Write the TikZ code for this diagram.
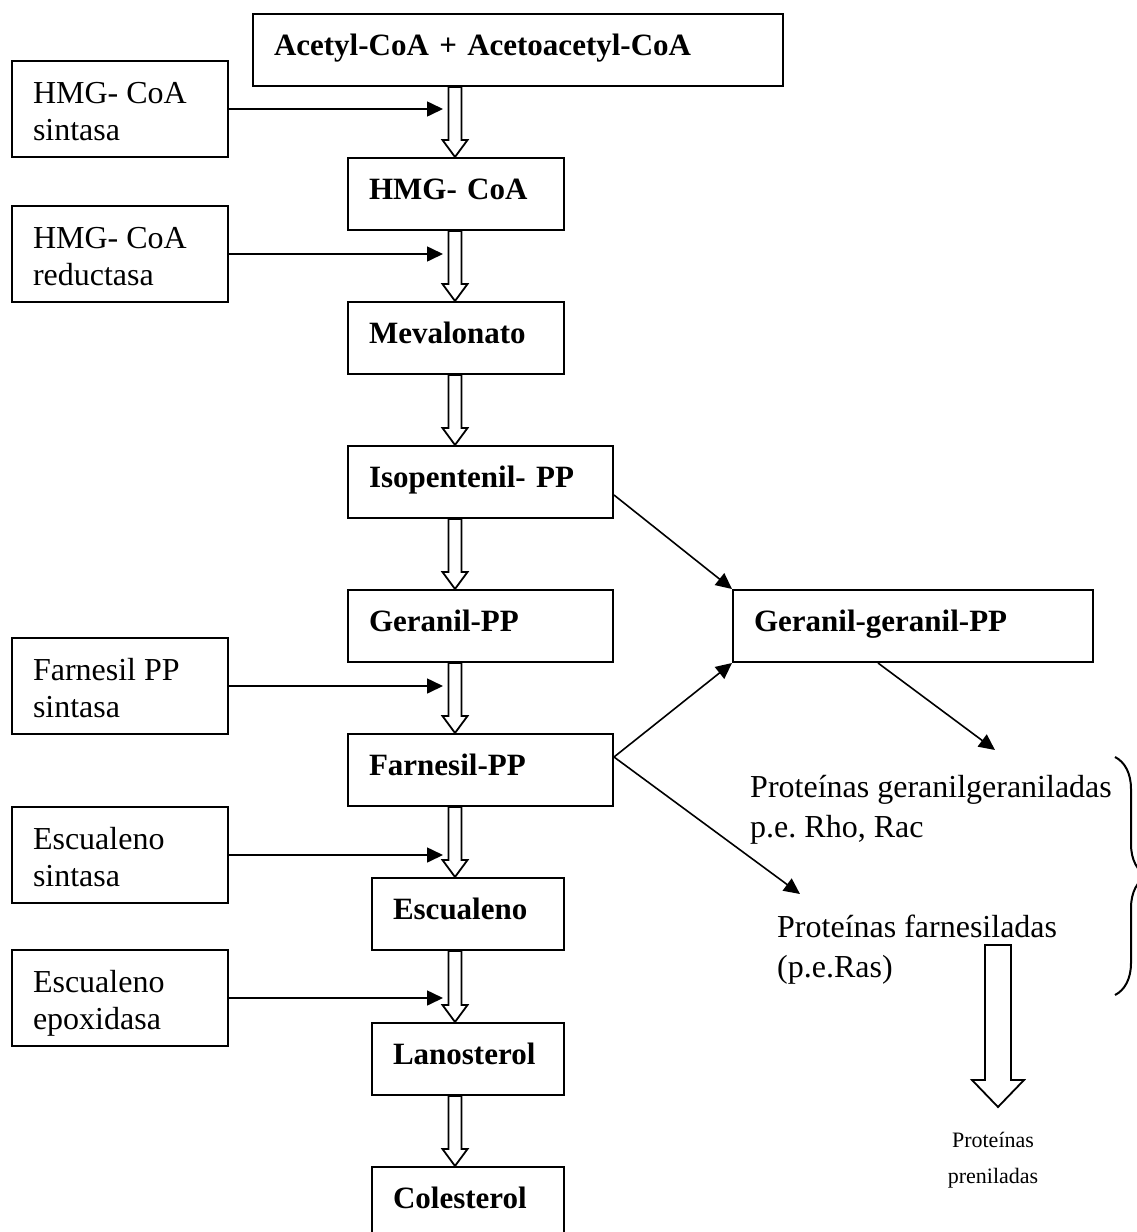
\documentclass[tikz,border=0pt]{standalone}
\usepackage{fontspec}
\setmainfont{Liberation Serif}
\usetikzlibrary{arrows.meta,calc,decorations.pathreplacing}
\frenchspacing

% Hollow (outlined) downward block arrow from #1 to the tip #2
% #3 half shaft width, #4 half head width, #5 head length (all in pt)
\newcommand\hollowdown[5]{%
  \draw[hollow] let \p1=(#1), \p2=(#2) in
    (\x2-#3pt,\y1) -- (\x2+#3pt,\y1) -- (\x2+#3pt,\y2+#5pt) -- (\x2+#4pt,\y2+#5pt)
    -- (\x2,\y2) -- (\x2-#4pt,\y2+#5pt) -- (\x2-#3pt,\y2+#5pt) -- cycle;}

\begin{document}
\begin{tikzpicture}[x=1pt,y=-1pt,
  every node/.style={font=\fontsize{32}{37}\selectfont},
  stage/.style={draw,line width=2pt,anchor=north west,inner xsep=21pt,inner ysep=0pt,
    text height=41pt,text depth=31pt,align=left,
    font=\bfseries\fontsize{31}{37}\selectfont},
  enzyme/.style={draw,line width=2pt,anchor=north west,inner xsep=21pt,inner ysep=0pt,
    text height=42pt,text depth=54pt},
  plain/.style={anchor=base west,inner sep=0pt,font=\fontsize{32}{40}\selectfont},
  link/.style={line width=1.6pt,-{Triangle[length=16pt,width=15pt]}},
  hollow/.style={draw,line width=1.8pt,fill=white,line join=miter},
  curly/.style={line width=2pt,decorate,decoration={brace,amplitude=32pt}}]

\useasboundingbox (0,0) rectangle (1137,1232);

% guide coordinates
\coordinate (cx) at (455,0);
\coordinate (tipx) at (443,0);

% main pathway
\node[stage,text width=488pt] (acc) at (252,13) {Acetyl-CoA + Acetoacetyl-CoA};
\node[stage,text width=174pt] (hmg) at (347,157) {HMG- CoA};
\node[stage,text width=174pt] (mev) at (347,301) {Mevalonato};
\node[stage,text width=223pt] (iso) at (347,445) {Isopentenil- PP};
\node[stage,text width=223pt] (ger) at (347,589) {Geranil-PP};
\node[stage,text width=223pt] (far) at (347,733) {Farnesil-PP};
\node[stage,text width=150pt] (esc) at (371,877) {Escualeno};
\node[stage,text width=150pt] (lan) at (371,1022) {Lanosterol};
\node[stage,text width=150pt] (col) at (371,1166) {Colesterol};
\node[stage,text width=318pt] (gg) at (732,589) {Geranil-geranil-PP};

% enzymes
\node[enzyme] (e1) at (11,60) {\parbox[t]{174pt}{HMG- CoA\\sintasa}};
\node[enzyme] (e2) at (11,205) {\parbox[t]{174pt}{HMG- CoA\\reductasa}};
\node[enzyme] (e3) at (11,637) {\parbox[t]{174pt}{Farnesil PP\\sintasa}};
\node[enzyme] (e4) at (11,806) {\parbox[t]{174pt}{Escualeno\\sintasa}};
\node[enzyme] (e5) at (11,949) {\parbox[t]{174pt}{Escualeno\\epoxidasa}};

% hollow pathway arrows
\hollowdown{acc.south -| cx}{hmg.north -| cx}{6.5}{12.5}{17}
\hollowdown{hmg.south -| cx}{mev.north -| cx}{6.5}{12.5}{17}
\hollowdown{mev.south -| cx}{iso.north -| cx}{6.5}{12.5}{17}
\hollowdown{iso.south -| cx}{ger.north -| cx}{6.5}{12.5}{17}
\hollowdown{ger.south -| cx}{far.north -| cx}{6.5}{12.5}{17}
\hollowdown{far.south -| cx}{esc.north -| cx}{6.5}{12.5}{17}
\hollowdown{esc.south -| cx}{lan.north -| cx}{6.5}{12.5}{17}
\hollowdown{lan.south -| cx}{col.north -| cx}{6.5}{12.5}{17}

% enzyme arrows
\foreach \e in {e1,e2,e3,e4,e5}
  \draw[link] (\e.east) -- (\e.east -| tipx);

% prenylated proteins
\node[plain] (pgeran) at (750,797) {\parbox[t]{400pt}{Proteínas geranilgeraniladas\\p.e. Rho, Rac}};
\node[plain] (pfarn) at (777,937) {\parbox[t]{400pt}{Proteínas farnesiladas\\(p.e.Ras)}};
\node[anchor=base,inner sep=0pt,font=\fontsize{22}{36}\selectfont] (pren) at (993,1147)
  {\parbox[t]{130pt}{\centering Proteínas\\preniladas}};

\coordinate (pgtip) at (995,750);
\coordinate (pftip) at (800,894);

% branch arrows
\draw[link] ($(iso.north east)+(0,50)$) -- (gg.north west);
\draw[link] ($(far.north east)+(0,24)$) -- (gg.south west);
\draw[link] ($(far.north east)+(0,24)$) -- (pftip);
\draw[link] ($(gg.south west)+(146,0)$) -- (pgtip);

% brace grouping the two protein classes
\draw[curly] (1115,757) -- (1115,995);

% big hollow arrow towards prenylated proteins
\coordinate (bigtop) at (998,945);
\coordinate (bigtip) at (998,1107);
\hollowdown{bigtop}{bigtip}{13}{26}{27}

\end{tikzpicture}
\end{document}
